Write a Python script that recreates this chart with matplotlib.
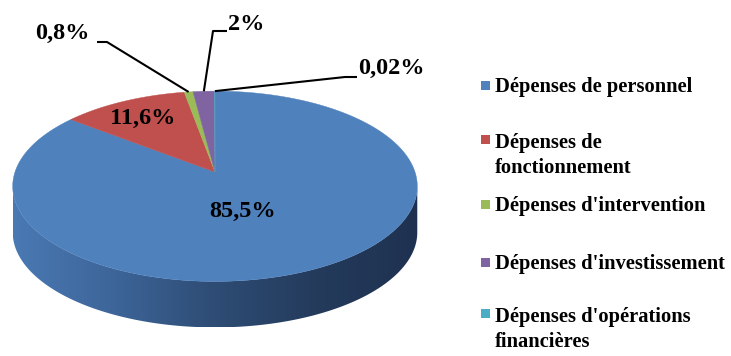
import numpy as np
import matplotlib
matplotlib.use("Agg")
import matplotlib.pyplot as plt
from matplotlib.patches import Polygon, Rectangle
from matplotlib.colors import LinearSegmentedColormap

# Spending breakdown (%)
categories = [
    "Dépenses de personnel",
    "Dépenses de\nfonctionnement",
    "Dépenses d'intervention",
    "Dépenses d'investissement",
    "Dépenses d'opérations\nfinancières",
]
values = [85.5, 11.6, 0.8, 2, 0.02]
colors = ["#4F81BD", "#C0504D", "#9BBB59", "#8064A2", "#4BACC6"]

FONT = "Liberation Serif"

fig = plt.figure(figsize=(7.31, 3.56), dpi=100)
ax = fig.add_axes([0, 0, 1, 1])
ax.set_xlim(0, 731)
ax.set_ylim(356, 0)
ax.axis("off")

# 3D pie geometry (screen units), perspective-tilted disc
cx, cy = 215.0, 172.0
ax_r, ay_r = 200.0, 93.0
k = 0.15          # perspective strength
depth = 46.0


def proj(theta_deg, r=1.0, drop=0.0):
    t = np.radians(theta_deg)
    X = r * np.cos(t)
    Z = r * np.sin(t)
    w = 1.0 + k * Z
    return cx + ax_r * X / w, cy - ay_r * Z / w + drop


# side wall (front half, between silhouette angles)
t_l = 180.0 + np.degrees(np.arcsin(k))
t_r = 360.0 - np.degrees(np.arcsin(k))
ts = np.linspace(t_l, t_r, 300)
top = np.array([proj(t) for t in ts])
bot = np.array([proj(t, drop=depth) for t in ts[::-1]])
side_pts = np.vstack([top, bot])
side = Polygon(side_pts, closed=True, facecolor="none", edgecolor="none")
ax.add_patch(side)

shade = LinearSegmentedColormap.from_list(
    "side", ["#4a79b3", "#3d6599", "#2e4c74", "#243b5c", "#1f3150"])
grad = np.linspace(0, 1, 256).reshape(1, -1)
x0, x1 = side_pts[:, 0].min(), side_pts[:, 0].max()
y0, y1 = side_pts[:, 1].min(), side_pts[:, 1].max()
im = ax.imshow(grad, cmap=shade, extent=(x0, x1, y1, y0),
               aspect="auto", interpolation="bilinear", zorder=1)
im.set_clip_path(side)

# top face wedges: start at 12 o'clock, run clockwise
total = sum(values)
start = 90.0
mids = []
for v, c in zip(values, colors):
    sweep = 360.0 * v / total
    end = start - sweep
    n = max(3, int(abs(sweep) * 2))
    arc = np.array([proj(t) for t in np.linspace(start, end, n)])
    pts = np.vstack([[cx, cy], arc])
    ax.add_patch(Polygon(pts, closed=True, facecolor=c, edgecolor=c,
                         linewidth=0.3, zorder=2))
    mids.append((start + end) / 2.0)
    start = end


def fmt(v):
    return f"{v:g}".replace(".", ",") + "%"


lab_kw = dict(fontfamily=FONT, fontweight="bold", fontsize=17.5,
              color="black", ha="center", va="center", zorder=5)

# labels inside the two big slices
ax.text(243, 211, fmt(values[0]), **lab_kw)
ax.text(143, 118, fmt(values[1]), **lab_kw)

# labels with leader lines for the thin slices
outside = [
    # (index, label centre, elbow start, elbow end)
    (2, (62, 33), (97, 42), (107, 42)),
    (3, (246, 25), (227, 31), (213, 31)),
    (4, (391, 68), (357, 77), (345, 77)),
]
for i, (lx, ly), (ex, ey), (kx, ky) in outside:
    rx, ry = proj(mids[i])
    ax.plot([ex, kx, rx], [ey, ky, ry], color="black", lw=1.5,
            solid_capstyle="butt", zorder=4)
    ax.text(lx, ly, fmt(values[i]), **lab_kw)

# legend (markers sit beside the first text line)
leg_marker_y = [85, 139, 204, 262, 313]
line_gap = 27
for name, c, my in zip(categories, colors, leg_marker_y):
    ax.add_patch(Rectangle((481, my - 4.5), 9, 9, facecolor=c,
                           edgecolor="none", zorder=5))
    n_lines = name.count("\n") + 1
    ax.text(495, my + 7 + line_gap * (n_lines - 1), name, fontfamily=FONT,
            fontweight="bold", fontsize=14.8, ha="left", va="baseline",
            linespacing=1.32, color="black", zorder=5)

fig.savefig("out.png", dpi=100)
